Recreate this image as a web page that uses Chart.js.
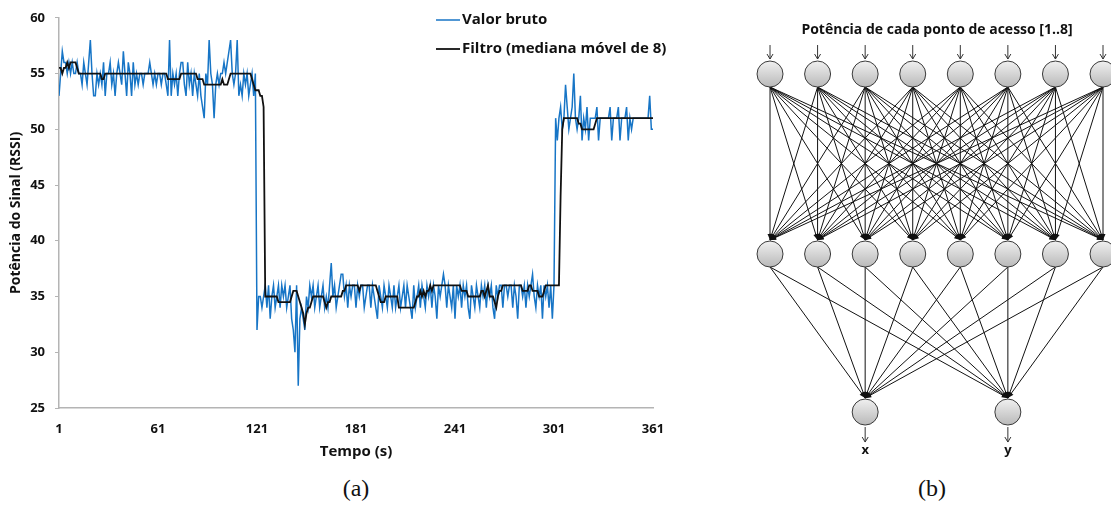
<!DOCTYPE html>
<html>
<head>
<meta charset="utf-8">
<script src="https://cdn.jsdelivr.net/npm/chart.js@4.4.1/dist/chart.umd.min.js"></script>
<style>
  body { margin: 0; background: #fff; width: 1111px; height: 505px; overflow: hidden; position: relative; }
  #rssiChart { position: absolute; left: 0; top: 0; }
  #netChart { position: absolute; left: 740px; top: 0; }
  .caption { position: absolute; top: 473px; width: 80px; text-align: center;
             font-family: "Liberation Serif", serif; font-size: 24px; line-height: 30px; color: #111; }
</style>
</head>
<body>
<canvas id="rssiChart" width="690" height="470"></canvas>
<canvas id="netChart" width="371" height="470"></canvas>
<div class="caption" style="left:316px">(a)</div>
<div class="caption" style="left:892px">(b)</div>

<script>
// --- Dados: RSSI bruto e filtrado (um valor por segundo, t = 1..361) ---
const seriesNames = ['Valor bruto', 'Filtro (mediana móvel de 8)'];
const timeTicks = [1, 61, 121, 181, 241, 301, 361];

const rawRssi = [
  53, 55, 57, 56, 56, 55, 56, 55, 56, 55,
  55, 56, 55, 55, 54, 56, 55, 54, 56, 58,
  55, 53, 53, 55, 54, 55, 54, 56, 53, 55,
  55, 56, 54, 55, 53, 55, 56, 55, 54, 57,
  55, 53, 56, 55, 53, 56, 54, 55, 54, 55,
  55, 54, 55, 55, 55, 56, 55, 54, 55, 54,
  55, 55, 54, 55, 55, 54, 53, 58, 53, 55,
  54, 55, 53, 55, 56, 56, 54, 53, 56, 54,
  55, 53, 55, 54, 53, 55, 53, 52, 51, 55,
  54, 58, 55, 54, 51, 54, 55, 54, 55, 55,
  56, 55, 56, 57, 58, 55, 54, 55, 58, 53,
  54, 53, 55, 54, 55, 53, 54, 55, 53, 55,
  32, 35, 35, 34, 35, 36, 34, 36, 33, 35,
  36, 34, 35, 36, 34, 36, 35, 36, 34, 35,
  36, 33, 32, 30, 36, 27, 33, 34, 33, 32,
  35, 34, 36, 35, 36, 34, 35, 36, 34, 35,
  36, 34, 35, 34, 36, 38, 35, 36, 34, 35,
  36, 37, 37, 35, 36, 34, 36, 35, 36, 36,
  34, 36, 35, 36, 36, 34, 35, 36, 36, 34,
  36, 35, 34, 33, 36, 35, 34, 36, 35, 34,
  36, 35, 34, 36, 34, 35, 36, 34, 35, 36,
  34, 36, 35, 34, 33, 36, 34, 35, 36, 34,
  36, 35, 34, 36, 35, 36, 34, 36, 35, 33,
  36, 35, 36, 37, 36, 34, 36, 35, 34, 36,
  33, 36, 35, 36, 34, 36, 35, 36, 34, 33,
  36, 35, 34, 36, 35, 34, 36, 35, 36, 34,
  36, 35, 36, 34, 33, 36, 35, 36, 36, 34,
  36, 36, 35, 36, 36, 34, 36, 35, 33, 36,
  36, 35, 36, 34, 36, 35, 36, 37, 35, 34,
  36, 35, 36, 33, 36, 35, 36, 34, 36, 33,
  36, 51, 49, 51, 52, 50, 51, 54, 52, 50,
  51, 52, 55, 51, 50, 51, 53, 49, 51, 50,
  52, 49, 51, 51, 51, 51, 52, 49, 51, 51,
  51, 51, 51, 51, 52, 49, 51, 51, 51, 52,
  49, 51, 51, 51, 52, 49, 51, 50, 51, 51,
  51, 51, 51, 51, 51, 51, 51, 51, 53, 50,
  50
];

const filteredRssi = [
  55.5, 55.5, 55, 55.5, 55.5, 56, 55.5, 56, 56, 56,
  56, 55.5, 55, 55, 55, 55, 55, 55, 55, 55,
  55, 55, 55, 55, 55, 55, 54.5, 54.5, 55, 55,
  55, 55, 55, 55, 55, 55, 55, 55, 55, 55,
  55, 55, 55, 55, 55, 55, 55, 55, 55, 55,
  55, 55, 55, 55, 55, 55, 55, 55, 55, 55,
  55, 55, 55, 55, 55, 55, 54.5, 54.5, 54.5, 54.5,
  54.5, 54.5, 54.5, 54.5, 55, 55, 55, 55, 55, 55,
  55, 55, 55, 55, 54.5, 54.5, 54.5, 54.5, 54, 54,
  54, 54, 54, 54, 54, 54, 54, 54, 54, 54.5,
  54, 54, 54, 54.5, 55, 55, 55, 55, 55, 55,
  55, 55, 55, 55, 55, 55, 55, 54.5, 54, 53.5,
  53.5, 53.5, 53, 53, 52, 35, 35, 35, 35, 35,
  35, 35, 35, 34.5, 34.5, 34.5, 34.5, 34.5, 34.5, 34.5,
  34.5, 35, 35.5, 35.5, 35.5, 35, 34.5, 34, 33.5, 32.5,
  33.5, 34, 34, 34.5, 35, 35, 35, 35, 35, 35,
  35, 34.5, 34, 34.5, 34.5, 35, 35, 35, 35, 35,
  35, 35, 35.5, 35.5, 36, 36, 36, 36, 36, 36,
  36, 36, 35.5, 36, 36, 36, 36, 36, 36, 36,
  36, 36, 36, 35.5, 35, 34.5, 34.5, 34.5, 35, 35,
  35, 35, 35, 35, 35, 35, 34, 34, 34, 34,
  34, 34, 34, 34, 34, 34, 34.5, 35, 35, 35.5,
  35, 35.5, 35, 35.5, 35.5, 36, 35.5, 36, 36, 36,
  36, 36, 36, 36, 36, 36, 36, 36, 36, 36,
  36, 36, 36, 36, 35.5, 35.5, 35.5, 35.5, 35, 35,
  35, 35, 35, 35, 35, 35, 35.5, 35.5, 35, 35.5,
  36, 35, 35, 35, 34.5, 34, 35, 35.5, 35.5, 36,
  36, 36, 36, 36, 36, 36, 36, 36, 36, 36,
  36, 35.5, 35.5, 35.5, 35.5, 36, 36, 35.5, 35.5, 35.5,
  35.5, 35, 35, 35, 35.5, 36, 36, 36, 36, 36,
  36, 36, 36, 36, 44, 50, 51, 51, 51, 51,
  51, 51, 51, 51, 51, 50.5, 50.5, 50, 50, 50,
  50, 50, 50, 50, 50, 50.5, 51, 51, 51, 51,
  51, 51, 51, 51, 51, 51, 51, 51, 51, 51,
  51, 51, 51, 51, 51, 51, 51, 51, 51, 51,
  51, 51, 51, 51, 51, 51, 51, 51, 51, 51,
  51
];

// --- Dados: rede neural (entradas, camada oculta, saídas) ---
const inputCount = 8;
const hiddenCount = 8;
const outputNames = ['x', 'y'];
const outputSlots = [3, 6];   // neurónios de saída alinhados com os ocultos 3 e 6
const networkTitle = 'Potência de cada ponto de acesso [1..8]';

const FONT = '"Open Sans", "Noto Sans", sans-serif';
const BLUE = '#1775c6';

// --- Gráfico RSSI ---
const toPoints = arr => arr.map((v, i) => ({ x: i + 1, y: v }));

const sideLegend = {
    id: 'sideLegend',
    afterDraw(chart) {
        const ctx = chart.ctx;
        const x0 = chart.chartArea.left + 377;
        const rowsY = [20, 49];
        ctx.save();
        ctx.font = 'bold 15px ' + FONT;
        ctx.textBaseline = 'middle';
        chart.data.datasets.forEach((ds, i) => {
            ctx.strokeStyle = ds.borderColor;
            ctx.lineWidth = ds.borderWidth;
            ctx.beginPath();
            ctx.moveTo(x0, rowsY[i]);
            ctx.lineTo(x0 + 24, rowsY[i]);
            ctx.stroke();
            ctx.fillStyle = '#111';
            ctx.fillText(ds.label, x0 + 26, rowsY[i]);
        });
        ctx.restore();
    }
};

new Chart(document.getElementById('rssiChart'), {
    type: 'line',
    data: {
        datasets: [
            {
                label: seriesNames[0],
                data: toPoints(rawRssi),
                borderColor: BLUE,
                borderWidth: 1.5,
                pointRadius: 0,
                tension: 0,
                order: 2
            },
            {
                label: seriesNames[1],
                data: toPoints(filteredRssi),
                borderColor: '#111',
                borderWidth: 1.8,
                pointRadius: 0,
                tension: 0,
                order: 1
            }
        ]
    },
    options: {
        responsive: false,
        animation: false,
        devicePixelRatio: 1,
        layout: { padding: { top: 17, right: 37, left: 0, bottom: 0 } },
        plugins: {
            legend: { display: false },
            tooltip: { enabled: false }
        },
        scales: {
            x: {
                type: 'linear',
                min: 1, max: 361,
                afterBuildTicks: scale => { scale.ticks = timeTicks.map(v => ({ value: v })); },
                afterFit: scale => { scale.height = 62; },
                grid: { drawOnChartArea: false, drawTicks: false },
                border: { color: '#b4b4b4', width: 1.5 },
                ticks: { color: '#111', font: { family: FONT, size: 13, weight: 'bold' }, padding: 13, maxRotation: 0 },
                title: { display: true, text: 'Tempo (s)', color: '#111',
                         font: { family: FONT, size: 15, weight: 'bold' }, padding: { top: 0, bottom: 9 } }
            },
            y: {
                min: 25, max: 60,
                afterFit: scale => { scale.width = 59; },
                grid: { drawOnChartArea: false, drawTicks: true, tickLength: 4, color: '#b4b4b4' },
                border: { color: '#b4b4b4', width: 1.5 },
                ticks: { stepSize: 5, color: '#111', font: { family: FONT, size: 13, weight: 'bold' }, padding: 10 },
                title: { display: true, text: 'Potência do Sinal (RSSI)', color: '#111',
                         font: { family: FONT, size: 14, weight: 'bold' }, padding: { top: 8, bottom: 0 } }
            }
        }
    },
    plugins: [sideLegend]
});

// --- Diagrama da rede neural ---
const NODE_R = 13;
const ROW = { input: 0, hidden: 1.065, output: 2 };

const inputNodes = Array.from({ length: inputCount }, (_, i) => ({ x: i + 1, y: ROW.input }));
const hiddenNodes = Array.from({ length: hiddenCount }, (_, i) => ({ x: i + 1, y: ROW.hidden }));
const outputNodes = outputSlots.map(s => ({ x: s, y: ROW.output }));

function arrowHead(ctx, x1, y1, x2, y2, len, half, filled) {
    const a = Math.atan2(y2 - y1, x2 - x1);
    ctx.beginPath();
    ctx.moveTo(x2 - len * Math.cos(a) + half * Math.sin(a), y2 - len * Math.sin(a) - half * Math.cos(a));
    ctx.lineTo(x2, y2);
    ctx.lineTo(x2 - len * Math.cos(a) - half * Math.sin(a), y2 - len * Math.sin(a) + half * Math.cos(a));
    if (filled) { ctx.closePath(); ctx.fill(); } else { ctx.stroke(); }
}

const networkLinks = {
    id: 'networkLinks',
    beforeDatasetsDraw(chart) {
        const { ctx, scales: { x, y } } = chart;
        const px = n => x.getPixelForValue(n.x);
        const py = n => y.getPixelForValue(n.y);
        ctx.save();
        ctx.strokeStyle = '#111';
        ctx.fillStyle = '#111';
        ctx.lineWidth = 1;
        const link = (from, to) => {
            const x1 = px(from), y1 = py(from) + NODE_R;
            const x2 = px(to), y2 = py(to) - NODE_R - 1;
            ctx.beginPath();
            ctx.moveTo(x1, y1);
            ctx.lineTo(x2, y2);
            ctx.stroke();
            arrowHead(ctx, x1, y1, x2, y2, 6, 2.5, true);
        };
        inputNodes.forEach(a => hiddenNodes.forEach(b => link(a, b)));
        hiddenNodes.forEach(a => outputNodes.forEach(b => link(a, b)));
        ctx.restore();
    },
    afterDatasetsDraw(chart) {
        const { ctx, scales: { x, y } } = chart;
        ctx.save();
        ctx.strokeStyle = '#333';
        ctx.lineWidth = 1;
        // setas de entrada
        inputNodes.forEach(n => {
            const cx = x.getPixelForValue(n.x), top = y.getPixelForValue(n.y) - NODE_R;
            ctx.beginPath();
            ctx.moveTo(cx, top - 16);
            ctx.lineTo(cx, top - 2);
            ctx.stroke();
            arrowHead(ctx, cx, top - 16, cx, top - 2, 5, 3, false);
        });
        // setas de saída e rótulos
        ctx.font = 'bold 13px ' + FONT;
        ctx.textAlign = 'center';
        ctx.textBaseline = 'middle';
        outputNodes.forEach((n, i) => {
            const cx = x.getPixelForValue(n.x), bot = y.getPixelForValue(n.y) + NODE_R;
            ctx.beginPath();
            ctx.moveTo(cx, bot + 2);
            ctx.lineTo(cx, bot + 17);
            ctx.stroke();
            arrowHead(ctx, cx, bot + 2, cx, bot + 17, 5, 3, false);
            ctx.fillStyle = '#111';
            ctx.fillText(outputNames[i], cx, bot + 25);
        });
        // título
        ctx.font = 'bold 14px ' + FONT;
        ctx.fillStyle = '#111';
        ctx.fillText(networkTitle, 197, 30);
        ctx.restore();
    }
};

// preenchimento em degradê de cada neurónio
const nodeFill = context => {
    const chart = context.chart;
    const yScale = chart.scales.y;
    const cy = (yScale && context.raw) ? yScale.getPixelForValue(context.raw.y) : NaN;
    if (!Number.isFinite(cy)) return '#dcdcdc';
    const g = chart.ctx.createLinearGradient(0, cy - NODE_R, 0, cy + NODE_R);
    g.addColorStop(0, '#f0f0f0');
    g.addColorStop(1, '#b9b9b9');
    return g;
};

new Chart(document.getElementById('netChart'), {
    type: 'scatter',
    data: {
        datasets: [{
            data: [...inputNodes, ...hiddenNodes, ...outputNodes],
            pointRadius: NODE_R,
            pointBorderColor: '#3a3a3a',
            pointBorderWidth: 1,
            pointBackgroundColor: nodeFill,
            clip: false
        }]
    },
    options: {
        responsive: false,
        animation: false,
        devicePixelRatio: 1,
        layout: { padding: 0, autoPadding: false },
        plugins: { legend: { display: false }, tooltip: { enabled: false } },
        scales: {
            x: { type: 'linear', display: false, min: 0.369, max: 8.168 },
            y: { type: 'linear', display: false, reverse: true, min: -0.438, max: 2.343 }
        }
    },
    plugins: [networkLinks]
});
</script>
</body>
</html>
